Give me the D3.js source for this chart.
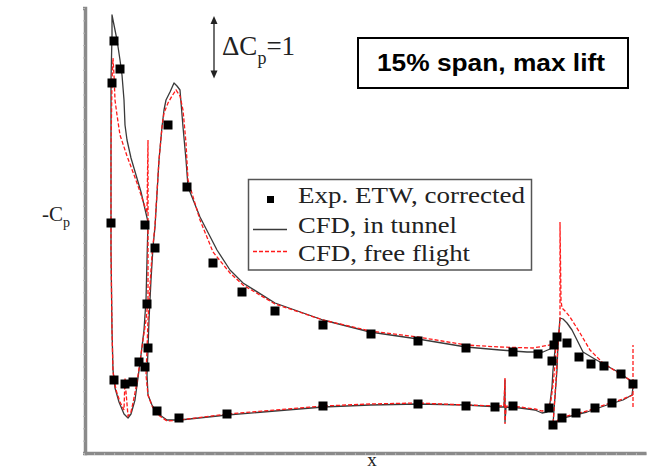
<!DOCTYPE html>
<html>
<head>
<meta charset="utf-8">
<script src="https://cdn.jsdelivr.net/npm/d3@7/dist/d3.min.js"></script>
<style>
  html, body { margin: 0; padding: 0; background: #fff; }
  svg { display: block; }
</style>
</head>
<body>
<svg id="chart" width="651" height="472"></svg>
<script>
// ---- data: [x/c, -Cp] ----
const expETW = [
  [0.016,5.2],[0.028,4.752],[0.012,4.528],[0.010,2.288],[0.078,2.256],
  [0.016,-0.224],[0.038,-0.288],[0.054,-0.256],[0.066,0.064],
  [0.098,1.888],[0.082,0.992],[0.084,0.288],[0.078,-0.016],[0.124,3.856],
  [0.162,2.864],[0.214,1.648],[0.272,1.184],[0.338,0.88],[0.434,0.656],
  [0.53,0.512],[0.624,0.4],[0.72,0.288],[0.814,0.224],[0.864,0.192],
  [0.102,-0.72],[0.146,-0.832],[0.242,-0.768],[0.434,-0.64],[0.624,-0.608],
  [0.72,-0.64],[0.778,-0.656],[0.814,-0.64],[0.886,-0.672],
  [0.892,0.08],[0.896,0.336],[0.902,0.464],[0.922,0.368],[0.946,0.144],
  [0.97,0.032],[0.996,0],[1.03,-0.128],[1.054,-0.288],
  [0.894,-0.944],[0.912,-0.832],[0.94,-0.752],[0.978,-0.672],[1.012,-0.592]
];

const slatTunnel = [
  [.084,2.304],[.082,1.696],[.080,1.056],[.076,0.576],[.070,0.176],[.064,-0.192],
  [.058,-0.544],[.050,-0.768],[.044,-0.832],[.036,-0.768],[.026,-0.576],[.018,-0.352],
  [.014,-0.064],[.012,0.576],[.010,1.856],[.010,3.456],[.010,4.576],[.012,5.296],
  [.012,5.616],[.016,5.456],[.022,5.216],[.028,4.896],[.032,4.656],[.036,4.256],
  [.038,3.856],[.042,3.616],[.050,3.328],[.060,3.056],[.070,2.784],[.084,2.304]
];
const slatFree = [
  [.082,2.464],[.084,3.616],[.084,1.056],[.080,0.736],[.074,0.416],[.068,0.064],
  [.062,-0.256],[.056,-0.512],[.050,-0.736],[.044,-0.8],[.040,-0.416],[.038,-0.192],
  [.036,-0.704],[.028,-0.576],[.020,-0.384],[.014,-0.096],[.012,0.576],[.010,1.856],
  [.010,3.456],[.012,4.576],[.014,4.928],[.016,4.656],[.018,4.256],[.022,4.016],
  [.028,3.696],[.042,3.36],[.062,2.928],[.078,2.544],[.082,2.464]
];

const mainTunnel = [
  [.90,0.384],[.894,0.336],[.888,0.272],[.874,0.224],[.842,0.224],[.814,0.24],
  [.788,0.256],[.72,0.304],[.624,0.432],[.528,0.544],[.434,0.736],[.338,1.008],
  [.274,1.328],[.248,1.536],[.222,1.856],[.188,2.384],[.164,2.864],[.160,3.296],
  [.154,3.824],[.148,4.416],[.142,4.48],[.136,4.528],[.128,4.384],[.120,4.256],
  [.116,4.096],[.112,3.824],[.106,3.296],[.098,2.224],[.094,1.904],[.090,1.376],
  [.086,0.736],[.084,0.256],[.082,-0.144],[.084,-0.464],[.092,-0.624],[.102,-0.752],
  [.122,-0.864],[.148,-0.864],[.242,-0.784],[.338,-0.72],[.434,-0.656],[.528,-0.624],
  [.624,-0.608],[.72,-0.624],[.788,-0.656],[.796,-0.656],[.798,-0.224],[.798,-0.896],
  [.80,-0.656],[.828,-0.672],[.858,-0.704],[.872,-0.752],[.882,-0.736],[.888,-0.592],
  [.892,-0.336],[.894,-0.064],[.898,0.256],[.90,0.384]
];
const mainFree = [
  [.90,0.416],[.888,0.336],[.854,0.288],[.788,0.304],[.72,0.336],[.624,0.464],
  [.528,0.56],[.434,0.736],[.338,0.992],[.274,1.296],[.248,1.488],[.214,1.824],
  [.188,2.336],[.164,2.976],[.160,3.568],[.154,4.096],[.148,4.32],[.140,4.416],
  [.132,4.32],[.124,4.208],[.116,4.048],[.112,3.824],[.106,3.296],[.098,2.256],
  [.092,1.776],[.088,1.296],[.084,0.736],[.082,0.256],[.080,-0.144],[.084,-0.464],
  [.092,-0.64],[.102,-0.768],[.122,-0.88],[.148,-0.864],[.242,-0.768],[.338,-0.704],
  [.434,-0.64],[.528,-0.608],[.624,-0.592],[.72,-0.624],[.788,-0.64],[.796,-0.64],
  [.798,-0.192],[.798,-0.928],[.80,-0.64],[.828,-0.656],[.858,-0.688],[.872,-0.72],
  [.884,-0.704],[.89,-0.544],[.894,-0.304],[.898,0.016],[.90,0.416]
];

const flapTunnel = [
  [1.054,-0.336],[1.052,-0.464],[1.034,-0.544],[1.002,-0.624],[.962,-0.736],
  [.922,-0.816],[.904,-0.88],[.894,-0.944],[.896,-0.704],[.898,-0.496],[.902,-0.064],
  [.904,0.368],[.908,0.768],[.914,0.752],[.922,0.688],[.932,0.576],[.942,0.416],
  [.954,0.224],[.974,0.128],[1.002,0],[1.028,-0.112],[1.052,-0.256],[1.054,-0.336]
];
const flapFree = [
  [1.054,-0.464],[1.034,-0.528],[1.002,-0.608],[.962,-0.72],[.922,-0.8],[.904,-0.864],
  [.894,-0.96],[.896,-0.704],[.90,-0.224],[.904,0.336],[.908,0.736],[.908,2.304],
  [.91,1.056],[.912,0.928],[.92,0.864],[.928,0.784],[.938,0.656],[.948,0.528],
  [.968,0.256],[.994,0.048],[1.022,-0.096],[1.048,-0.224],[1.054,-0.304],
  [1.054,0.336],[1.054,-0.656]
];

const legendLabels = ["Exp. ETW, corrected", "CFD, in tunnel", "CFD, free flight"];
const titleText = "15% span, max lift";
const deltaCp = 1;

// ---- scales ----
const svg = d3.select("#chart");
const xScale = d3.scaleLinear().domain([-0.04, 1.08]).range([86, 646]);
const yScale = d3.scaleLinear().domain([-1.4, 5.8]).range([453.5, 3.5]);

// ---- axes (no labels) ----
const axisColor = "#8a8a8a";
const yAxisScale = d3.scaleLinear().domain([-1.4, 5.8]).range([453, 8]);
const gy = svg.append("g").attr("transform", "translate(85,0)")
  .call(d3.axisLeft(yAxisScale).ticks(50).tickSize(2).tickFormat(""));
gy.select(".domain").attr("stroke", axisColor).attr("stroke-width", 3.5);
gy.selectAll(".tick line").attr("stroke", "#b5b5b5").attr("stroke-width", 1);

const xAxisScale = d3.scaleLinear().domain([-0.04, 1.08]).range([84, 646]);
const gx = svg.append("g").attr("transform", "translate(0,453)")
  .call(d3.axisBottom(xAxisScale).ticks(60).tickSize(2).tickSizeOuter(0).tickFormat(""));
gx.select(".domain").attr("stroke", axisColor).attr("stroke-width", 3.5);
gx.selectAll(".tick line").attr("stroke", "#b5b5b5").attr("stroke-width", 1);

// ---- curves ----
const line = d3.line().x(d => xScale(d[0])).y(d => yScale(d[1]));
const blackStyle = g => g.attr("fill", "none").attr("stroke", "#3a3a3a").attr("stroke-width", 1.3).attr("stroke-linejoin", "round");
const redStyle = g => g.attr("fill", "none").attr("stroke", "#ff1a1a").attr("stroke-width", 1.3).attr("stroke-dasharray", "4,2");

[slatTunnel, mainTunnel, flapTunnel].forEach(d => svg.append("path").attr("d", line(d)).call(blackStyle));
[slatFree, mainFree, flapFree].forEach(d => svg.append("path").attr("d", line(d)).call(redStyle));

// ---- experiment squares ----
const sq = 9;
svg.append("g").selectAll("rect").data(expETW).join("rect")
  .attr("x", d => xScale(d[0]) - sq / 2)
  .attr("y", d => yScale(d[1]) - sq / 2)
  .attr("width", sq).attr("height", sq)
  .attr("fill", "#000");

// ---- delta Cp arrow ----
const ax = xScale(0.216);
const aTop = yScale(5.6), aBot = yScale(5.6 - deltaCp);
svg.append("line").attr("x1", ax).attr("x2", ax).attr("y1", aTop + 3).attr("y2", aBot - 3)
  .attr("stroke", "#222").attr("stroke-width", 1.3);
svg.append("path").attr("d", `M${ax},${aTop} l-3.5,8 l7,0 Z`).attr("fill", "#222");
svg.append("path").attr("d", `M${ax},${aBot} l-3.5,-8 l7,0 Z`).attr("fill", "#222");
const dt = svg.append("text").attr("x", 222).attr("y", 55)
  .attr("font-family", "'Liberation Serif', 'Times New Roman', serif").attr("font-size", 27).attr("fill", "#222");
dt.append("tspan").text("\u0394C");
dt.append("tspan").attr("font-size", 18).attr("dy", 9).text("p");
dt.append("tspan").attr("dy", -9).text("=" + deltaCp);

// ---- title box ----
svg.append("rect").attr("x", 358).attr("y", 38).attr("width", 270).attr("height", 50)
  .attr("fill", "#fff").attr("stroke", "#000").attr("stroke-width", 2);
svg.append("text").attr("x", 377).attr("y", 71)
  .attr("font-family", "'Liberation Sans', Arial, sans-serif").attr("font-weight", "bold")
  .attr("font-size", 23).attr("fill", "#000")
  .attr("textLength", 228).attr("lengthAdjust", "spacingAndGlyphs")
  .text(titleText);

// ---- legend ----
const lg = svg.append("g");
lg.append("rect").attr("x", 248.5).attr("y", 179.5).attr("width", 283).attr("height", 90.5)
  .attr("fill", "#fff").attr("stroke", "#555").attr("stroke-width", 1.5);
lg.append("rect").attr("x", 267).attr("y", 196).attr("width", 7).attr("height", 7).attr("fill", "#000");
lg.append("line").attr("x1", 253).attr("x2", 287).attr("y1", 229.5).attr("y2", 229.5).call(blackStyle);
lg.append("line").attr("x1", 253).attr("x2", 287).attr("y1", 251.5).attr("y2", 251.5).call(redStyle);
const legY = [203, 233, 261];
const legW = [227, 159, 172];
legendLabels.forEach((t, i) => {
  lg.append("text").attr("x", 298).attr("y", legY[i])
    .attr("font-family", "'Liberation Serif', 'Times New Roman', serif").attr("font-size", 24)
    .attr("fill", "#222").attr("textLength", legW[i]).attr("lengthAdjust", "spacingAndGlyphs")
    .text(t);
});

// ---- axis labels ----
const yl = svg.append("text").attr("x", 42).attr("y", 221)
  .attr("font-family", "'Liberation Serif', 'Times New Roman', serif").attr("font-size", 21).attr("fill", "#222");
yl.append("tspan").text("-C");
yl.append("tspan").attr("font-size", 14).attr("dy", 6).text("p");
svg.append("text").attr("x", 372).attr("y", 466).attr("text-anchor", "middle")
  .attr("font-family", "'Liberation Serif', 'Times New Roman', serif").attr("font-size", 19).attr("fill", "#222")
  .text("x");
</script>
</body>
</html>
